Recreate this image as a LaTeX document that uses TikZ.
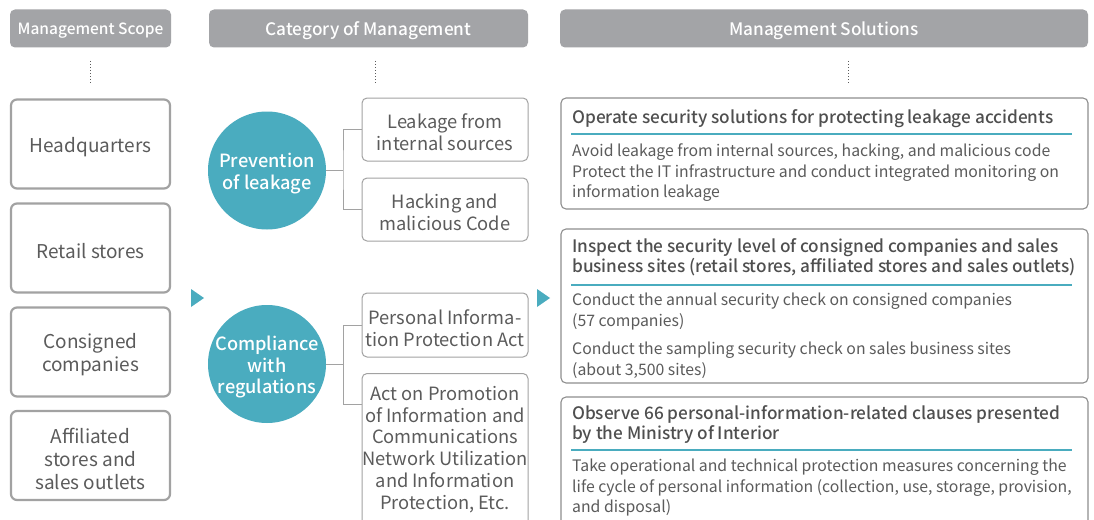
\documentclass[tikz,border=0pt]{standalone}
\usepackage{fontspec}
\setmainfont{Noto Sans CJK KR}[BoldFont={Noto Sans CJK KR Medium}]
\definecolor{hdrgray}{HTML}{A3A4A7}
\definecolor{tealc}{HTML}{4AACBF}
\definecolor{txtc}{HTML}{5B5B5B}
\definecolor{titlec}{HTML}{4F4F4F}
\definecolor{bdrc}{HTML}{A2A2A2}
\definecolor{sbdrc}{HTML}{8E8E8E}
\begin{document}
\begin{tikzpicture}[x=1pt,y=-1pt,
  hdrbox/.style={fill=hdrgray, rounded corners=5pt, inner sep=0pt},
  hdrtext/.style={text=white, inner sep=0pt, font=\fontsize{17.2}{20}\selectfont\bfseries},
  scopebox/.style={draw=bdrc, line width=2.2pt, rounded corners=6pt, fill=white,
     minimum width=159pt, minimum height=89pt, inner sep=0pt},
  scopetext/.style={align=center, text=txtc, inner sep=0pt, font=\fontsize{19}{23}\selectfont},
  catbox/.style={draw=bdrc, line width=1pt, rounded corners=5pt, fill=white, inner sep=0pt},
  cattext/.style={align=center, text=txtc, inner sep=0pt, font=\fontsize{18.3}{21.8}\selectfont},
  circ/.style={circle, fill=tealc, minimum size=118pt, inner sep=0pt},
  circtext/.style={text=white, align=center, inner sep=0pt,
     font=\fontsize{18.2}{21.3}\selectfont\bfseries},
  solbox/.style={draw=sbdrc, line width=1.1pt, rounded corners=5pt},
  soltitle/.style={anchor=north west, inner sep=0pt, align=left, text=titlec,
     font=\fontsize{17.2}{20.8}\selectfont\bfseries},
  soltext/.style={anchor=north west, inner sep=0pt, align=left, text=txtc,
     font=\fontsize{15.8}{20.4}\selectfont},
  tealline/.style={draw=tealc, line width=1.3pt},
  conn/.style={draw=bdrc, line width=1pt},
  dots/.style={draw=txtc, line width=1pt, dotted},
  tri/.style={fill=tealc, draw=none}
]
\clip (0,0) rectangle (1094,519);
\useasboundingbox (0,0) rectangle (1094,519);
\fill[white] (0,0) rectangle (1094,519);

% headers
\node[hdrbox, minimum width=161pt, minimum height=38pt] (h1) at (90.5,28.5) {};
\node[hdrtext, font=\fontsize{15.5}{18}\selectfont\bfseries] (h1t) at ([yshift=-2pt]h1.center) {Management Scope};
\node[hdrbox, minimum width=319pt, minimum height=38pt] (h2) at (368.5,28.5) {};
\node[hdrtext] (h2t) at ([yshift=-2pt]h2.center) {Category of Management};
\node[hdrbox, minimum width=528pt, minimum height=38pt] (h3) at (824,28.5) {};
\node[hdrtext] (h3t) at ([yshift=-2pt]h3.center) {Management Solutions};

% dotted leaders
\coordinate (d1a) at (90.5,61); \coordinate (d1b) at (90.5,85);
\coordinate (d2a) at (375.5,61); \coordinate (d2b) at (375.5,85);
\coordinate (d3a) at (848,61); \coordinate (d3b) at (848,85);
\draw[dots] (d1a) -- (d1b);
\draw[dots] (d2a) -- (d2b);
\draw[dots] (d3a) -- (d3b);

% scope boxes
\node[scopebox] (s1) at (90.5,144) {};
\node[scopetext] (s1t) at ([yshift=-3pt]s1.center) {Headquarters};
\node[scopebox] (s2) at (90.5,248) {};
\node[scopetext] (s2t) at ([yshift=-3pt]s2.center) {Retail stores};
\node[scopebox] (s3) at (90.5,352) {};
\node[scopetext] (s3t) at ([yshift=-3pt]s3.center) {Consigned\\companies};
\node[scopebox] (s4) at (90.5,455.5) {};
\node[scopetext] (s4t) at ([yshift=-3pt]s4.center) {Affiliated\\stores and\\sales outlets};

% triangles
\fill[tri] (191,289) -- (204,298) -- (191,307) -- cycle;
\fill[tri] (537,289) -- (550,298) -- (537,307) -- cycle;

% circles
\node[circ] (c1) at (267,170.5) {};
\node[circtext] (c1t) at ([yshift=-3pt]c1.center) {Prevention\\of leakage};
\node[circ] (c2) at (267,364) {};
\node[circtext] (c2t) at ([yshift=-3pt]c2.center) {Compliance\\with\\regulations};

% category boxes
\node[catbox, minimum width=166pt, minimum height=63pt] (k1) at (445,129.5) {};
\node[cattext] (k1t) at ([yshift=-3pt]k1.center) {Leakage from\\internal sources};
\node[catbox, minimum width=166pt, minimum height=63pt] (k2) at (445,209.5) {};
\node[cattext] (k2t) at ([yshift=-3pt]k2.center) {Hacking and\\malicious Code};
\node[catbox, minimum width=166pt, minimum height=64pt] (k3) at (445,325) {};
\node[cattext] (k3t) at ([yshift=-3pt]k3.center) {Personal Informa-\\tion Protection Act};
\node[catbox, minimum width=166pt, minimum height=160pt, anchor=north] (k4) at (445,373) {};
\node[cattext, anchor=north] (k4t) at (445,386)
  {Act on Promotion\\of Information and\\Communications\\Network Utilization\\and Information\\Protection, Etc.};

% connectors
\coordinate (j1) at (343,170.5);
\coordinate (j2) at (343,364);
\draw[conn] (c1.east) -- (j1);
\draw[conn] (k1.west) -| (j1) |- (k2.west);
\draw[conn] (c2.east) -- (j2);
\draw[conn] (k3.west) -| (j2);
\draw[conn] (j2) |- (k4.west |- 0,404);

% solution boxes
\draw[solbox] (561,98) rectangle (1088,209);
\node[soltitle] (t1) at (572,109) {Operate security solutions for protecting leakage accidents};
\draw[tealline] (571,134) -- (1072,134);
\node[soltext] (b1) at (572,144) {Avoid leakage from internal sources, hacking, and malicious code\\Protect the IT infrastructure and conduct integrated monitoring on\\information leakage};

\draw[solbox] (561,229) rectangle (1088,383);
\node[soltitle] (t2) at (572,238) {Inspect the security level of consigned companies and sales\\business sites (retail stores, affiliated stores and sales outlets)};
\draw[tealline] (571,285) -- (1072,285);
\node[soltext] (b2) at (572,293) {Conduct the annual security check on consigned companies\\(57 companies)};
\node[soltext] (b3) at (572,342) {Conduct the sampling security check on sales business sites\\(about 3,500 sites)};

\draw[solbox] (561,397) rectangle (1088,540);
\node[soltitle] (t3) at (572,405) {Observe 66 personal-information-related clauses presented\\by the Ministry of Interior};
\draw[tealline] (571,450) -- (1072,450);
\node[soltext] (b4) at (572,459) {Take operational and technical protection measures concerning the\\life cycle of personal information (collection, use, storage, provision,\\and disposal)};
\end{tikzpicture}
\end{document}
